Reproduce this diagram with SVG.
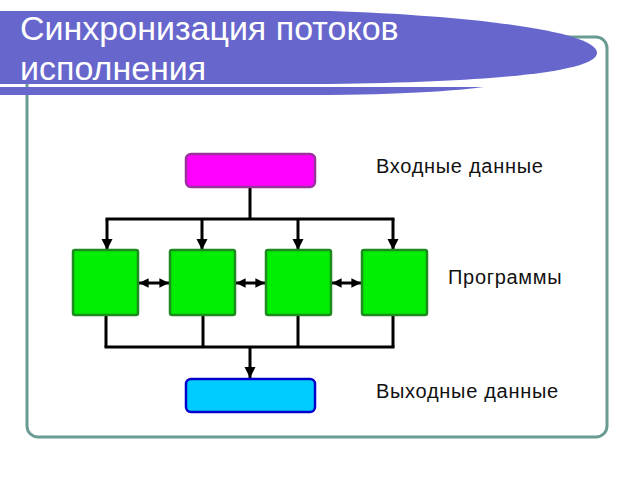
<svg xmlns="http://www.w3.org/2000/svg" width="640" height="480" viewBox="0 0 640 480">
<defs>
<marker id="ah" viewBox="0 0 10 10" refX="10" refY="5" markerWidth="3.8" markerHeight="3.8" orient="auto-start-reverse" markerUnits="strokeWidth">
<path d="M0,0 L10,5 L0,10 Z" fill="#000"/>
</marker>
<marker id="ah2" viewBox="0 0 10 10" refX="10" refY="5" markerWidth="3.2" markerHeight="3.2" orient="auto-start-reverse" markerUnits="strokeWidth">
<path d="M0,0 L10,5 L0,10 Z" fill="#000"/>
</marker>
<style>
.t{font-family:"Liberation Sans",Arial,sans-serif;}
.title{font-size:34px;fill:#fff;}
.lbl{font-size:20px;fill:#111;letter-spacing:0.7px;}
.g{fill:#00ee00;stroke:#1f8a1f;stroke-width:2.5;}
.ln{fill:none;stroke:#000;stroke-width:3;}
.ar{fill:none;stroke:#000;stroke-width:3;marker-end:url(#ah);}
.dar{fill:none;stroke:#000;stroke-width:3;marker-end:url(#ah2);marker-start:url(#ah2);}
</style>
</defs>
<rect width="640" height="480" fill="#fff"/>
<rect id="frame" x="27" y="37" width="580" height="400" rx="11" fill="#fff" stroke="#6b9c93" stroke-width="3"/>
<g id="banner">
<path d="M0,11 L330,11 C480,16 597,32 597,53 C597,70 510,82 330,84 L0,84 Z" fill="#6666cc"/>
<path d="M0,87 L420,87 C460,87 480,87 484,87 C460,90 420,94 330,95 L0,95 Z" fill="#6666cc"/>
<text class="t title" x="20" y="40">Синхронизация потоков</text>
<text class="t title" x="20" y="80">исполнения</text>
</g>
<g id="connectors">
<polyline class="ln" points="250,187 250,219"/>
<line class="ln" x1="105.5" y1="219" x2="394.5" y2="219"/>
<line class="ar" x1="107" y1="219" x2="107" y2="250"/>
<line class="ar" x1="202" y1="219" x2="202" y2="250"/>
<line class="ar" x1="298" y1="219" x2="298" y2="250"/>
<line class="ar" x1="393" y1="219" x2="393" y2="250"/>
<line class="dar" x1="139" y1="283" x2="169" y2="283"/>
<line class="dar" x1="236" y1="283" x2="265" y2="283"/>
<line class="dar" x1="332" y1="283" x2="361" y2="283"/>
<line class="ln" x1="106" y1="315" x2="106" y2="347"/>
<line class="ln" x1="203" y1="315" x2="203" y2="347"/>
<line class="ln" x1="298" y1="315" x2="298" y2="347"/>
<line class="ln" x1="393" y1="315" x2="393" y2="347"/>
<line class="ln" x1="104.5" y1="347" x2="394.5" y2="347"/>
<line class="ar" x1="250" y1="347" x2="250" y2="378"/>
</g>
<g id="input"><rect x="186" y="154" width="129" height="33" rx="5" fill="#ff00ff" stroke="#993399" stroke-width="2.5"/></g>
<g id="p1"><rect class="g" x="73" y="250" width="65" height="65" rx="2"/></g>
<g id="p2"><rect class="g" x="170" y="250" width="65" height="65" rx="2"/></g>
<g id="p3"><rect class="g" x="266" y="250" width="65" height="65" rx="2"/></g>
<g id="p4"><rect class="g" x="362" y="250" width="65" height="65" rx="2"/></g>
<g id="output"><rect x="186" y="379" width="129" height="33" rx="5" fill="#00ccff" stroke="#0000cc" stroke-width="2.5"/></g>
<text class="t lbl" x="376" y="173">Входные данные</text>
<text class="t lbl" x="448" y="284">Программы</text>
<text class="t lbl" x="376" y="398">Выходные данные</text>
</svg>
